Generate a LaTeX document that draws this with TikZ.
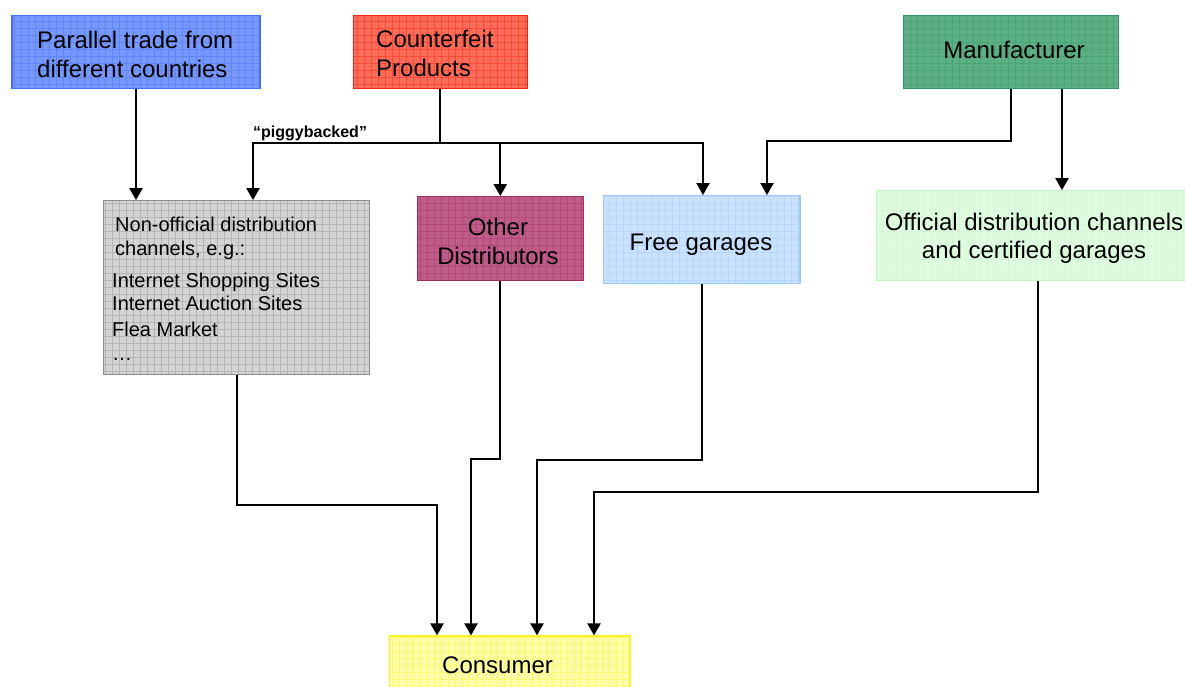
\documentclass[tikz,border=0pt]{standalone}
\usepackage{fontspec}
\setmainfont{Liberation Sans}
\usetikzlibrary{arrows.meta,patterns.meta}

% box colours: fill and edge
\definecolor{parfill}{RGB}{118,152,250}  \definecolor{paredge}{RGB}{70,110,245}
\definecolor{cffill}{RGB}{255,108,88}    \definecolor{cfedge}{RGB}{255,30,20}
\definecolor{mffill}{RGB}{92,176,132}    \definecolor{mfedge}{RGB}{50,150,100}
\definecolor{nofill}{RGB}{212,212,212}   \definecolor{noedge}{RGB}{140,140,140}
\definecolor{odfill}{RGB}{192,92,138}    \definecolor{odedge}{RGB}{160,45,100}
\definecolor{fgfill}{RGB}{200,226,255}   \definecolor{fgedge}{RGB}{160,200,250}
\definecolor{ocfill}{RGB}{224,252,224}   \definecolor{ocedge}{RGB}{195,245,195}
\definecolor{cnfill}{RGB}{255,255,170}   \definecolor{cnedge}{RGB}{250,245,40}

\tikzset{
  panel/.style={rectangle, inner sep=0pt, line width=1.2pt, draw=#1edge,
    preaction={fill=#1fill},
    pattern={Hatch[distance=7pt, angle=0, line width=0.45pt]},
    pattern color=#1edge!45!#1fill},
  big/.style={inner sep=0pt, font=\fontsize{24}{29}\selectfont},
  small/.style={inner sep=0pt, font=\fontsize{20}{24}\selectfont},
  tag/.style={inner sep=0pt, font=\fontsize{16}{19}\selectfont\bfseries},
  link/.style={line width=2.2pt, -{Triangle[width=13pt,length=12pt]}},
}

\begin{document}
\begin{tikzpicture}[x=1pt, y=-1pt]
\path[use as bounding box, clip] (0,0) rectangle (1185,686);

% boxes
\node[panel=par, minimum width=248, minimum height=72.6] (par) at (136,52) {};
\node[panel=cf, minimum width=174, minimum height=72.6] (cf) at (440.3,52) {};
\node[panel=mf, minimum width=215, minimum height=72.6] (mf) at (1010.8,52) {};
\node[panel=no, minimum width=266, minimum height=173.6] (nonoff) at (236.3,287.5) {};
\node[panel=od, minimum width=166, minimum height=84] (other) at (500.3,238.7) {};
\node[panel=fg, minimum width=196.7, minimum height=87.7] (free) at (701.7,239.5) {};
\node[panel=oc, minimum width=309, minimum height=90] (off) at (1031.3,235.7) {};
\node[panel=cn, minimum width=240.7, minimum height=60] (cons) at (509.7,666) {};

% box texts
\node[big, anchor=base west] (par1) at (37,48) {Parallel trade from};
\node[big, anchor=base west] (par2) at (37,77) {different countries};
\node[big, anchor=base west] (cf1) at (376,47) {Counterfeit};
\node[big, anchor=base west] (cf2) at (376,76) {Products};
\node[big, anchor=base] (mf1) at (1014,58) {Manufacturer};
\node[small, anchor=base west] (no1) at (115,231.7) {Non-official distribution};
\node[small, anchor=base west] (no2) at (115,255) {channels, e.g.:};
\node[small, anchor=base west] (no3) at (112,287.3) {Internet Shopping Sites};
\node[small, anchor=base west] (no4) at (112,310.7) {Internet Auction Sites};
\node[small, anchor=base west] (no5) at (112,336) {Flea Market};
\node[small, anchor=base west] (no6) at (112,360.7) {…};
\node[big, anchor=base] (od1) at (498,235) {Other};
\node[big, anchor=base] (od2) at (498,264) {Distributors};
\node[big, anchor=base] (fg1) at (701,250) {Free garages};
\node[big, anchor=base] (oc1) at (1034,230) {Official distribution channels};
\node[big, anchor=base] (oc2) at (1034,258) {and certified garages};
\node[big, anchor=base west] (cn1) at (442,673) {Consumer};
\node[tag, anchor=base west] (pig) at (253,137) {“piggybacked”};

% bends of the connectors
\coordinate (cfsplit) at (253,143);
\coordinate (fgtop) at (703,143);
\coordinate (mfa) at (1011,141);
\coordinate (fgb) at (767,141);
\coordinate (mfb) at (1062,100);
\coordinate (k1) at (237,505);
\coordinate (k2) at (437,505);
\coordinate (k3) at (500,459);
\coordinate (k4) at (471,459);
\coordinate (k5) at (702,460);
\coordinate (k6) at (537,460);
\coordinate (k7) at (1038,492);
\coordinate (k8) at (594,492);

% supply side
\draw[link] (par.south) -- (par.south |- nonoff.north);
\draw[link] (cf.south) |- (cfsplit) -- (cfsplit |- nonoff.north);
\draw[link] (cf.south) |- (other.north |- cfsplit) -- (other.north);
\draw[link] (cf.south) |- (fgtop) -- (fgtop |- free.north);
\draw[link] (mfa |- mf.south) -- (mfa) -- (fgb) -- (fgb |- free.north);
\draw[link] (mfb |- mf.south) -- (mfb |- off.north);

% channels to the consumer
\draw[link] (k1 |- nonoff.south) -- (k1) -- (k2) -- (k2 |- cons.north);
\draw[link] (k3 |- other.south) -- (k3) -- (k4) -- (k4 |- cons.north);
\draw[link] (k5 |- free.south) -- (k5) -- (k6) -- (k6 |- cons.north);
\draw[link] (k7 |- off.south) -- (k7) -- (k8) -- (k8 |- cons.north);
\end{tikzpicture}
\end{document}
